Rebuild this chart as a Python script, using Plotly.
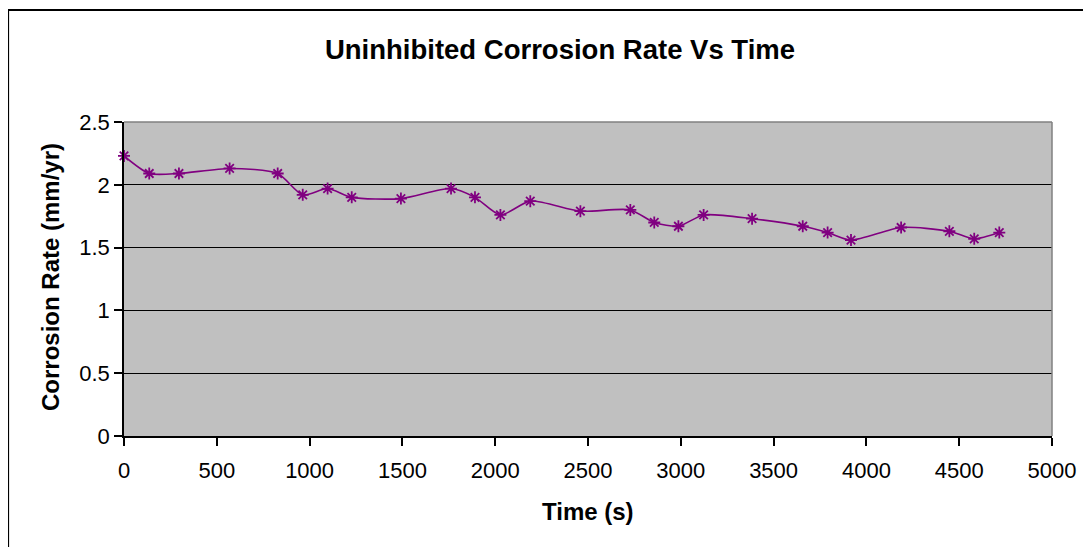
import plotly.graph_objects as go

time_s = [0, 136, 296, 569, 828, 963, 1097, 1227, 1492, 1762, 1891, 2028, 2189,
          2459, 2728, 2857, 2987, 3123, 3384, 3657, 3791, 3917, 4187, 4447, 4581, 4716]
rate = [2.23, 2.09, 2.09, 2.13, 2.09, 1.92, 1.97, 1.90, 1.89, 1.97, 1.90, 1.76, 1.87,
        1.79, 1.80, 1.70, 1.67, 1.76, 1.73, 1.67, 1.62, 1.56, 1.66, 1.63, 1.57, 1.62]

title_text = "Uninhibited Corrosion Rate Vs Time"
x_title = "Time (s)"
y_title = "Corrosion Rate (mm/yr)"

W, H = 1091, 547
OX, OY = 7, 7  # page offset of the figure in the screenshot
ml, mt = 123 - OX, 121 - OY
pw, ph = 928, 314
mr = W - ml - pw
mb = H - mt - ph

def px(xs):
    return (xs - OX - ml) / pw

def py(ys):
    return (mt + ph - (ys - OY)) / ph

FONT = "Liberation Sans, Arial, sans-serif"
PURPLE = "#800080"

fig = go.Figure()
fig.add_trace(go.Scatter(
    x=time_s, y=rate, mode="lines+markers",
    line=dict(color=PURPLE, width=1.6, shape="spline", smoothing=0.7),
    marker=dict(symbol="asterisk-open", size=10, color=PURPLE,
                line=dict(color=PURPLE, width=1.8)),
    showlegend=False, cliponaxis=False,
))

fig.update_layout(
    width=W, height=H,
    margin=dict(l=ml, r=mr, t=mt, b=mb),
    paper_bgcolor="white", plot_bgcolor="#C0C0C0",
    font=dict(family=FONT, color="black", size=22),
    title=dict(text="<b>" + title_text + "</b>", x=(559 - OX) / W, xref="container",
               xanchor="center", y=1 - (48 - OY) / H, yref="container", yanchor="middle",
               font=dict(size=27.5, family=FONT, color="black")),
    xaxis=dict(range=[0, 5000], dtick=500, tick0=0, showgrid=False, zeroline=False,
               showline=True, linecolor="black", linewidth=1.5,
               ticks="outside", ticklen=8, tickwidth=1.5, tickcolor="black",
               ticklabelstandoff=6, tickfont=dict(size=22, family=FONT)),
    yaxis=dict(range=[0, 2.5], dtick=0.5, tick0=0, showgrid=True, gridcolor="black",
               gridwidth=1.2, zeroline=False,
               showline=True, linecolor="black", linewidth=1.5,
               ticks="outside", ticklen=8, tickwidth=1.5, tickcolor="black",
               tickfont=dict(size=22, family=FONT)),
    annotations=[
        dict(text="<b>" + x_title + "</b>", xref="paper", yref="paper",
             x=px(587), y=py(510), showarrow=False, xanchor="center", yanchor="middle",
             font=dict(size=24, family=FONT)),
        dict(text="<b>" + y_title + "</b>", xref="paper", yref="paper",
             x=px(49), y=py(276), showarrow=False, xanchor="center", yanchor="middle",
             textangle=-90, font=dict(size=24, family=FONT)),
    ],
    shapes=[
        dict(type="line", xref="paper", yref="paper", x0=0, x1=1, y0=1, y1=1,
             line=dict(color="#808080", width=1.5)),
        dict(type="line", xref="paper", yref="paper", x0=1, x1=1, y0=0, y1=1,
             line=dict(color="#808080", width=1.5)),
        dict(type="rect", xref="paper", yref="paper", x0=px(7), x1=px(1120),
             y0=py(9), y1=py(580), line=dict(color="black", width=2.2),
             fillcolor="rgba(0,0,0,0)"),
    ],
)

fig.write_html("out.html")
